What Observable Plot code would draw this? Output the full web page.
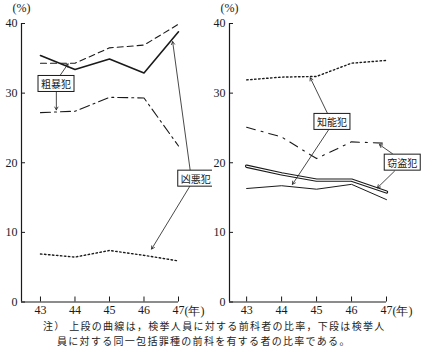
<!DOCTYPE html>
<html><head><meta charset="utf-8">
<script src="https://cdn.jsdelivr.net/npm/d3@7"></script>
<script src="https://cdn.jsdelivr.net/npm/@observablehq/plot@0.6"></script>
<style>
body{margin:0;background:#fff;}
#wrap{position:relative;width:424px;height:353px;background:#fff;overflow:hidden;}
#row{display:flex;}
#note{position:absolute;left:0;top:319px;font-family:"Noto Sans CJK JP";font-size:10px;line-height:14.5px;color:#222;letter-spacing:1.3px;}
#note div{white-space:nowrap;height:14.5px;}
</style></head>
<body>
<div id="wrap">
  <div id="row"></div>
  <div id="note">
    <div id="n1" style="padding-left:43px"></div>
    <div id="n2" style="padding-left:57px"></div>
  </div>
</div>
<script>
// ---- data ----
const years = [43, 44, 45, 46, 47];
const yTicks = [0, 10, 20, 30, 40];
const unitX = "(年)";
const unitY = "(%)";
// left panel
const violentUpper = [35.4, 33.4, 34.9, 32.9, 38.8];   // 凶悪犯 上段 (solid)
const roughUpper   = [34.3, 34.3, 36.5, 36.9, 39.9];   // 粗暴犯 上段 (dashed)
const roughLower   = [27.2, 27.4, 29.4, 29.3, 22.4];   // 粗暴犯 下段 (dash-dot)
const violentLower = [6.9, 6.45, 7.4, 6.7, 5.9];       // 凶悪犯 下段 (dotted)
// right panel
const fraudUpper   = [31.9, 32.3, 32.4, 34.3, 34.7];   // 知能犯 上段 (dotted)
const theftUpper   = [25.1, 23.7, 20.6, 23.0, 22.8];   // 窃盗犯 上段 (dash-dot)
const theftLower   = [19.5, 18.4, 17.5, 17.5, 15.8];   // 窃盗犯 下段 (double)
const fraudLower   = [16.3, 16.7, 16.2, 16.9, 14.7];   // 知能犯 下段 (thin solid)
// labels
const leftNames = ["粗暴犯", "凶悪犯"];
const rightNames = ["知能犯", "窃盗犯"];
const noteLines = [
  "注） 上段の曲線は，検挙人員に対する前科者の比率，下段は検挙人",
  "員に対する同一包括罪種の前科を有する者の比率である。"
];

// ---- annotation placement (data coordinates) ----
const leftLabelPos = [{x: 43.45, y: 31.2}, {x: 47.5, y: 17.6}];
const leftArrows = [
  {x1: 43.52, y1: 32.2, x2: 43.8, y2: 34.2},
  {x1: 43.46, y1: 30.3, x2: 43.46, y2: 27.6},
  {x1: 47.35, y1: 18.5, x2: 46.83, y2: 37.4},
  {x1: 47.35, y1: 16.8, x2: 46.22, y2: 7.6}
];
const rightLabelPos = [{x: 45.44, y: 25.75}, {x: 47.45, y: 19.9}];
const rightArrows = [
  {x1: 45.34, y1: 26.8, x2: 44.82, y2: 32.2},
  {x1: 45.34, y1: 24.7, x2: 44.31, y2: 16.9},
  {x1: 47.17, y1: 21.3, x2: 46.8, y2: 22.6},
  {x1: 47.23, y1: 18.8, x2: 46.74, y2: 16.4}
];

const toRows = (vals) => years.map((yr, i) => ({year: yr, v: vals[i]}));
const ink = "#1a1a1a";

function panel({x0, ml, mr, lines, names, labelPos, arrows}) {
  const marks = [
    Plot.ruleX([x0], {y1: 0, y2: 40, stroke: ink, strokeWidth: 1.2}),
    Plot.ruleY([0], {x1: x0, x2: 47, stroke: ink, strokeWidth: 1.2}),
    Plot.axisX({ticks: years, tickSize: -5, tickPadding: 8, label: null, tickFormat: d => String(d), stroke: ink}),
    Plot.axisY({ticks: yTicks, tickSize: -4, tickPadding: 8, label: null, stroke: ink}),
    Plot.text([unitY], {x: x0, y: 40, text: d => d, dy: -15, fontSize: 12}),
    Plot.text([unitX], {x: 47, y: 0, text: d => d, dx: 6, dy: 9, textAnchor: "start", fontSize: 12}),
    ...lines,
    Plot.arrow(arrows, {x1: "x1", y1: "y1", x2: "x2", y2: "y2", stroke: ink, strokeWidth: 0.8, headLength: 6, insetStart: 0, insetEnd: 0}),
    Plot.text(names, {x: (d, i) => labelPos[i].x, y: (d, i) => labelPos[i].y, text: d => d,
      fontFamily: "Noto Sans CJK JP", fontSize: 10, fill: ink})
  ];
  return Plot.plot({
    width: 212, height: 320,
    marginLeft: ml, marginRight: mr, marginTop: 23, marginBottom: 18.5,
    x: {domain: [x0, 47]},
    y: {domain: [0, 40]},
    style: {fontFamily: "Liberation Serif", fontSize: "12px", color: ink, background: "#fff", overflow: "visible"},
    marks
  });
}

const L = (vals, opts) => Plot.line(toRows(vals), {x: "year", y: "v", stroke: ink, ...opts});

const left = panel({
  x0: 42.45, ml: 21, mr: 34,
  names: leftNames, labelPos: leftLabelPos, arrows: leftArrows,
  lines: [
    L(violentUpper, {strokeWidth: 1.6}),
    L(roughUpper, {strokeWidth: 1.1, strokeDasharray: "6,4"}),
    L(roughLower, {strokeWidth: 1.1, strokeDasharray: "10,4,2,4"}),
    L(violentLower, {strokeWidth: 1.4, strokeDasharray: "1.5,2.5"})
  ]
});
const right = panel({
  x0: 42.51, ml: 17, mr: 38,
  names: rightNames, labelPos: rightLabelPos, arrows: rightArrows,
  lines: [
    L(fraudUpper, {strokeWidth: 1.4, strokeDasharray: "1.5,2.5"}),
    L(theftUpper, {strokeWidth: 1.1, strokeDasharray: "9,6,2,6"}),
    L(theftLower, {strokeWidth: 3.4}),
    L(theftLower, {strokeWidth: 1.2, stroke: "#fff"}),
    L(fraudLower, {strokeWidth: 1})
  ]
});

const row = document.getElementById("row");
row.appendChild(left);
row.appendChild(right);
document.getElementById("n1").textContent = noteLines[0];
document.getElementById("n2").textContent = noteLines[1];

// box frames around crime labels
for (const svg of [left, right]) {
  svg.querySelectorAll('g[font-family*="Noto"] text').forEach(t => {
    const b = t.getBBox();
    const r = document.createElementNS("http://www.w3.org/2000/svg", "rect");
    r.setAttribute("x", b.x - 3);
    r.setAttribute("y", b.y - 0.5);
    r.setAttribute("width", b.width + 6);
    r.setAttribute("height", b.height + 1);
    r.setAttribute("fill", "#fff");
    r.setAttribute("stroke", ink);
    r.setAttribute("stroke-width", 1);
    const tr = t.getAttribute("transform");
    if (tr) r.setAttribute("transform", tr);
    t.parentNode.insertBefore(r, t);
  });
}
</script>
</body></html>
